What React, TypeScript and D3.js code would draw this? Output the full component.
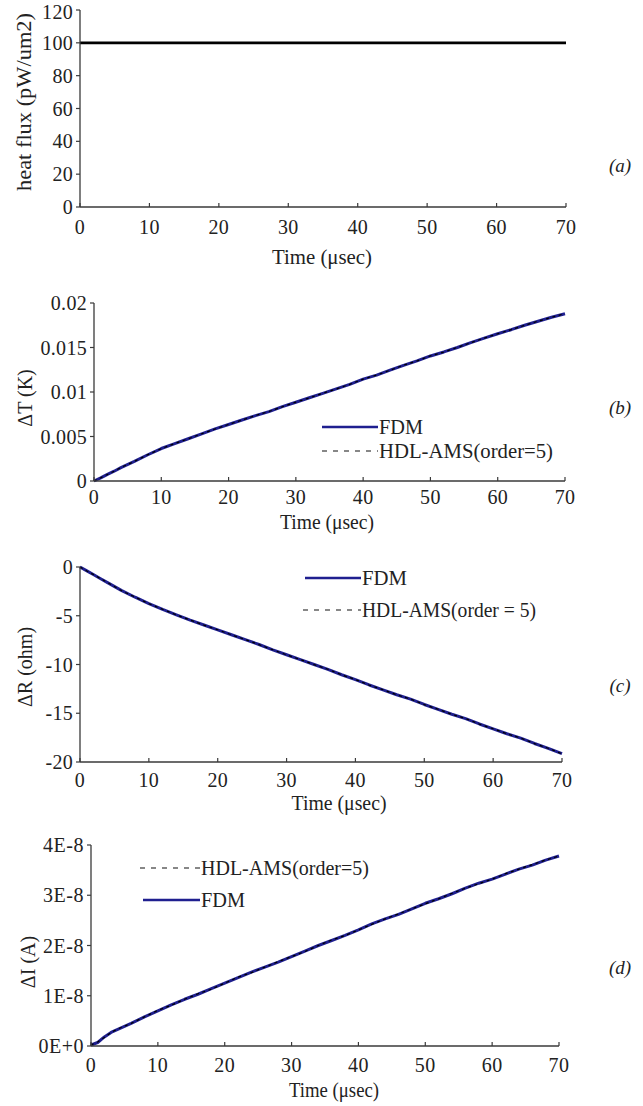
import React from "react";
import * as d3 from "d3";

// ---------- data ----------
const TIME = [0, 1, 2, 3, 4, 6, 8, 10, 12, 14, 16, 18, 20, 22, 24, 26, 28, 30, 32, 34, 36, 38, 40, 42, 44, 46, 48, 50, 52, 54, 56, 58, 60, 62, 64, 66, 68, 70];
const HEAT_TIME = [0, 70];
const HEAT_FLUX = [100, 100];

// ΔT in K
const DT_FDM = [0, 0.00035, 0.00075, 0.0011, 0.0015, 0.0022, 0.00295, 0.00365, 0.0042, 0.00475, 0.0053, 0.00585, 0.00635, 0.00685, 0.00735, 0.0078, 0.00835, 0.00885, 0.00935, 0.00985, 0.01035, 0.01085, 0.01145, 0.0119, 0.01245, 0.013, 0.0135, 0.01405, 0.0145, 0.015, 0.01555, 0.01605, 0.01655, 0.017, 0.0175, 0.01795, 0.0184, 0.0188];
const DT_HDL = [0, 0.00036, 0.00074, 0.0011, 0.00152, 0.0022, 0.00296, 0.00364, 0.00421, 0.00474, 0.00531, 0.00584, 0.00636, 0.00684, 0.00736, 0.00781, 0.00834, 0.00886, 0.00934, 0.00986, 0.01034, 0.01086, 0.01144, 0.01191, 0.01244, 0.01301, 0.01349, 0.01406, 0.01449, 0.01501, 0.01554, 0.01606, 0.01654, 0.01701, 0.01749, 0.01796, 0.01839, 0.01881];

// ΔR in ohm
const DR_FDM = [0, -0.4, -0.8, -1.2, -1.6, -2.4, -3.1, -3.75, -4.35, -4.9, -5.45, -5.95, -6.45, -6.95, -7.45, -7.95, -8.5, -9.0, -9.5, -10.0, -10.5, -11.05, -11.55, -12.1, -12.6, -13.1, -13.55, -14.1, -14.6, -15.1, -15.55, -16.1, -16.6, -17.1, -17.55, -18.1, -18.6, -19.15];
const DR_HDL = [0, -0.41, -0.79, -1.21, -1.59, -2.41, -3.09, -3.76, -4.34, -4.91, -5.44, -5.96, -6.44, -6.96, -7.44, -7.96, -8.49, -9.01, -9.49, -10.01, -10.49, -11.06, -11.54, -12.11, -12.59, -13.11, -13.54, -14.11, -14.59, -15.11, -15.54, -16.11, -16.59, -17.11, -17.54, -18.11, -18.59, -19.16];

// ΔI in A
const DI_FDM = [0.02e-8, 0.07e-8, 0.18e-8, 0.27e-8, 0.33e-8, 0.45e-8, 0.58e-8, 0.7e-8, 0.82e-8, 0.93e-8, 1.03e-8, 1.14e-8, 1.25e-8, 1.36e-8, 1.47e-8, 1.57e-8, 1.67e-8, 1.78e-8, 1.89e-8, 2.0e-8, 2.1e-8, 2.2e-8, 2.31e-8, 2.43e-8, 2.53e-8, 2.62e-8, 2.73e-8, 2.84e-8, 2.93e-8, 3.03e-8, 3.14e-8, 3.24e-8, 3.32e-8, 3.42e-8, 3.52e-8, 3.6e-8, 3.7e-8, 3.78e-8];
const DI_HDL = [0.02e-8, 0.08e-8, 0.17e-8, 0.27e-8, 0.34e-8, 0.45e-8, 0.58e-8, 0.71e-8, 0.81e-8, 0.93e-8, 1.04e-8, 1.13e-8, 1.25e-8, 1.37e-8, 1.46e-8, 1.57e-8, 1.68e-8, 1.78e-8, 1.88e-8, 2.0e-8, 2.11e-8, 2.2e-8, 2.31e-8, 2.42e-8, 2.53e-8, 2.63e-8, 2.73e-8, 2.83e-8, 2.93e-8, 3.04e-8, 3.14e-8, 3.23e-8, 3.32e-8, 3.43e-8, 3.52e-8, 3.61e-8, 3.7e-8, 3.78e-8];

const X_TICKS = [0, 10, 20, 30, 40, 50, 60, 70];
const A_TICKS = [0, 20, 40, 60, 80, 100, 120];
const B_TICKS = [0, 0.005, 0.01, 0.015, 0.02];
const B_LABELS = ["0", "0.005", "0.01", "0.015", "0.02"];
const C_TICKS = [0, -5, -10, -15, -20];
const C_LABELS = ["0", "-5", "-10", "-15", "-20"];
const D_TICKS = [0, 1e-8, 2e-8, 3e-8, 4e-8];
const D_LABELS = ["0E+0", "1E-8", "2E-8", "3E-8", "4E-8"];

const X_TITLE = "Time (\u03bcsec)";
const FONT = "'Liberation Serif', 'Times New Roman', serif";
const NAVY = "#1f1f8f";
const AXIS = "#3a3a3a";

type Series = { x: number[]; y: number[]; color: string; width: number; dash?: string };
type LegendItem = { label: string; color: string; width: number; dash?: string; x1: number; x2: number; y: number; len: number };

type PanelProps = {
  left: number; right: number; top: number; bottom: number;
  yDomain: [number, number];
  yTicks: number[]; yLabels: string[];
  series: Series[];
  yTitle: string; yTitleX: number; yTitleY: number; yTitleLen?: number;
  xLabelY: number; xTitleY: number; xTitleX: number; xTitleLen: number;
  tag: string; tagY: number;
  legend: LegendItem[];
  fs: number;
  ls: number;
};

function Panel(p: PanelProps) {
  const x = d3.scaleLinear().domain([0, 70]).range([p.left, p.right]);
  const y = d3.scaleLinear().domain(p.yDomain).range([p.bottom, p.top]);
  const line = d3.line<[number, number]>().x((d) => x(d[0])).y((d) => y(d[1]));
  return (
    <g fontFamily={FONT} fill="#222">
      {p.series.map((s, i) => (
        <path
          key={i}
          d={line(s.x.map((t, j) => [t, s.y[j]] as [number, number])) || ""}
          fill="none"
          stroke={s.color}
          strokeWidth={s.width}
          strokeDasharray={s.dash}
          strokeLinejoin="round"
        />
      ))}
      {/* axes */}
      <line x1={p.left} x2={p.left} y1={p.top} y2={p.bottom} stroke={AXIS} strokeWidth={1.3} />
      <line x1={p.left} x2={p.right} y1={p.bottom} y2={p.bottom} stroke={AXIS} strokeWidth={1.3} />
      {p.yTicks.map((t, i) => (
        <g key={"yt" + i}>
          <line x1={p.left - 4} x2={p.left} y1={y(t)} y2={y(t)} stroke={AXIS} strokeWidth={1.2} />
          <text x={p.left - 7} y={Math.max(y(t), 12)} textAnchor="end" dominantBaseline="central" fontSize={p.fs} letterSpacing={p.ls}>
            {p.yLabels[i]}
          </text>
        </g>
      ))}
      {X_TICKS.map((t, i) => (
        <g key={"xt" + i}>
          <line x1={x(t)} x2={x(t)} y1={p.bottom} y2={p.bottom - 4} stroke={AXIS} strokeWidth={1.2} />
          <text x={x(t)} y={p.xLabelY} textAnchor="middle" dominantBaseline="central" fontSize={p.fs} letterSpacing={p.ls}>
            {String(t)}
          </text>
        </g>
      ))}
      <text
        x={p.xTitleX - p.xTitleLen / 2}
        y={p.xTitleY}
        dominantBaseline="central"
        fontSize={20}
        textLength={p.xTitleLen}
        lengthAdjust="spacingAndGlyphs"
      >
        {X_TITLE}
      </text>
      <text
        transform={`translate(${p.yTitleX},${p.yTitleY}) rotate(-90)`}
        textAnchor="middle"
        dominantBaseline="central"
        fontSize={20}
        textLength={p.yTitleLen}
        lengthAdjust={p.yTitleLen ? "spacingAndGlyphs" : undefined}
      >
        {p.yTitle}
      </text>
      <text x={620} y={p.tagY} textAnchor="middle" dominantBaseline="central" fontSize={19} fontStyle="italic">
        ({p.tag})
      </text>
      {p.legend.map((it, i) => (
        <g key={"lg" + i}>
          <line x1={it.x1} x2={it.x2} y1={it.y} y2={it.y} stroke={it.color} strokeWidth={it.width} strokeDasharray={it.dash} />
          <text
            x={it.x2 + 1}
            y={it.y}
            dominantBaseline="central"
            fontSize={20}
            textLength={it.len}
            lengthAdjust="spacingAndGlyphs"
          >
            {it.label}
          </text>
        </g>
      ))}
    </g>
  );
}

export default function App() {
  const dash = "3,3.5";
  const legDash = "5,6";
  return (
    <svg width={643} height={1106} style={{ position: "absolute", left: 0, top: 0, background: "#fff" }}>
      <Panel
        left={80} right={566} top={10} bottom={207}
        yDomain={[0, 120]}
        yTicks={A_TICKS} yLabels={A_TICKS.map(String)}
        series={[{ x: HEAT_TIME, y: HEAT_FLUX, color: "#000", width: 2.6 }]}
        yTitle="heat flux (pW/um2)" yTitleX={24} yTitleY={102} yTitleLen={178}
        xLabelY={227} xTitleY={257} xTitleX={322} xTitleLen={100}
        tag="a" tagY={165}
        legend={[]}
        fs={20}
        ls={0.3}
      />
      <Panel
        left={94} right={565} top={303} bottom={481}
        yDomain={[0, 0.02]}
        yTicks={B_TICKS} yLabels={B_LABELS}
        series={[
          { x: TIME, y: DT_FDM, color: NAVY, width: 3 },
          { x: TIME, y: DT_HDL, color: "#000", width: 1.2, dash },
        ]}
        yTitle={"\u0394T (K)"} yTitleX={25} yTitleY={398}
        xLabelY={497} xTitleY={522} xTitleX={327} xTitleLen={94}
        tag="b" tagY={407}
        legend={[
          { label: "FDM", color: NAVY, width: 2.6, x1: 322, x2: 378, y: 427, len: 44 },
          { label: "HDL-AMS(order=5)", color: "#111", width: 1.2, dash: legDash, x1: 322, x2: 378, y: 451, len: 174 },
        ]}
        fs={20}
        ls={0.3}
      />
      <Panel
        left={80} right={562} top={567} bottom={762}
        yDomain={[-20, 0]}
        yTicks={C_TICKS} yLabels={C_LABELS}
        series={[
          { x: TIME, y: DR_FDM, color: NAVY, width: 3 },
          { x: TIME, y: DR_HDL, color: "#000", width: 1.2, dash },
        ]}
        yTitle={"\u0394R (ohm)"} yTitleX={25} yTitleY={667}
        xLabelY={780} xTitleY={803} xTitleX={339} xTitleLen={95}
        tag="c" tagY={685}
        legend={[
          { label: "FDM", color: NAVY, width: 2.6, x1: 305, x2: 361, y: 578, len: 45 },
          { label: "HDL-AMS(order = 5)", color: "#111", width: 1.2, dash: legDash, x1: 303, x2: 361, y: 610, len: 174 },
        ]}
        fs={20}
        ls={0.3}
      />
      <Panel
        left={91} right={559} top={845} bottom={1046}
        yDomain={[0, 4e-8]}
        yTicks={D_TICKS} yLabels={D_LABELS}
        series={[
          { x: TIME, y: DI_FDM, color: NAVY, width: 3 },
          { x: TIME, y: DI_HDL, color: "#000", width: 1.2, dash },
        ]}
        yTitle={"\u0394I (A)"} yTitleX={28} yTitleY={962}
        xLabelY={1065} xTitleY={1090} xTitleX={334} xTitleLen={90}
        tag="d" tagY={967}
        legend={[
          { label: "HDL-AMS(order=5)", color: "#111", width: 1.2, dash: legDash, x1: 140, x2: 200, y: 868, len: 168 },
          { label: "FDM", color: NAVY, width: 2.6, x1: 143, x2: 200, y: 900, len: 44 },
        ]}
        fs={20}
        ls={0.5}
      />
    </svg>
  );
}
